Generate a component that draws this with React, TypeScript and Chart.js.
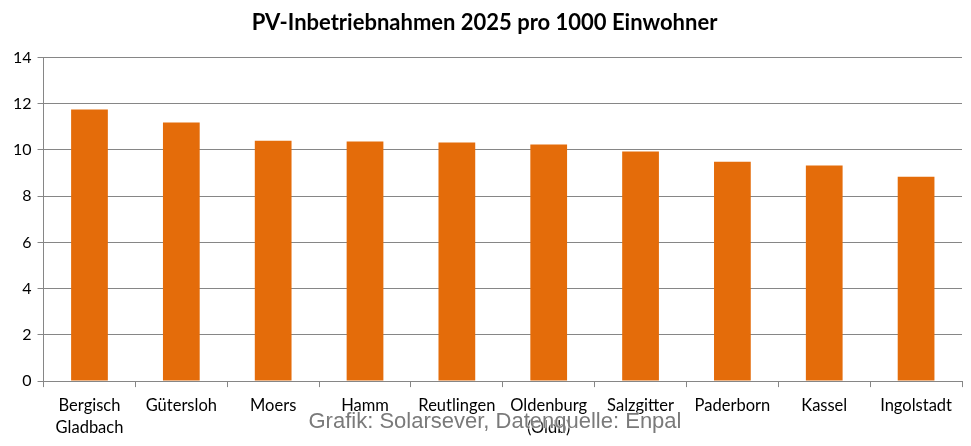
import React, { useEffect, useRef } from "react";
import { Chart, registerables } from "chart.js";

Chart.register(...registerables);

const categories: (string | string[])[] = [
  ["Bergisch", "Gladbach"],
  "Gütersloh",
  "Moers",
  "Hamm",
  "Reutlingen",
  ["Oldenburg", "(Oldb)"],
  "Salzgitter",
  "Paderborn",
  "Kassel",
  "Ingolstadt",
];
const values: number[] = [11.75, 11.18, 10.4, 10.36, 10.32, 10.23, 9.93, 9.49, 9.32, 8.84];
const yTicks: number[] = [0, 2, 4, 6, 8, 10, 12, 14];
const titleText = "PV-Inbetriebnahmen 2025 pro 1000 Einwohner";
const creditText = "Grafik: Solarsever, Datenquelle: Enpal";

export default function App() {
  const ref = useRef<HTMLCanvasElement | null>(null);
  useEffect(() => {
    if (!ref.current) return;
    const chart = new Chart(ref.current, {
      type: "bar",
      data: {
        labels: categories,
        datasets: [
          {
            data: values,
            backgroundColor: "#E46C0A",
            barPercentage: 0.4,
            categoryPercentage: 1,
          },
        ],
      },
      options: {
        animation: false,
        responsive: false,
        maintainAspectRatio: false,
        layout: { padding: { left: 7, right: 9, top: 6, bottom: 0 } },
        plugins: {
          legend: { display: false },
          tooltip: { enabled: false },
          title: {
            display: true,
            text: titleText,
            color: "#000",
            font: { family: "Lato", size: 22, weight: "bold" },
            padding: { top: 4, bottom: 21 },
          },
        },
        scales: {
          x: {
            grid: {
              offset: true,
              drawOnChartArea: false,
              drawTicks: true,
              tickLength: 6,
              color: "#868686",
            },
            border: { color: "#868686", width: 1 },
            ticks: {
              color: "#000",
              font: { family: "Lato", size: 16.5, lineHeight: 1.3 },
              maxRotation: 0,
              autoSkip: false,
              padding: 8,
            },
          },
          y: {
            min: 0,
            max: 14,
            afterBuildTicks: (axis: any) => {
              axis.ticks = yTicks.map((v) => ({ value: v }));
            },
            grid: { color: "#868686", tickLength: 6, lineWidth: 1 },
            border: { color: "#868686", width: 1 },
            ticks: {
              color: "#000",
              font: { family: "Lato", size: 16 },
              padding: 6,
            },
          },
        },
      },
    });
    return () => chart.destroy();
  }, []);
  return (
    <div style={{ position: "absolute", left: 0, top: 0, width: 971, height: 446, background: "#fff" }}>
      <canvas ref={ref} width={971} height={446} style={{ width: 971, height: 446 }} />
      <div
        style={{
          position: "absolute",
          left: 0,
          width: 990,
          top: 408,
          textAlign: "center",
          fontFamily: "Liberation Sans, Arial, sans-serif",
          fontSize: 22,
          color: "#7a7a7a",
          textShadow: "0 0 2px #fff, 0 0 2px #fff, 0 0 1px #fff",
          whiteSpace: "nowrap",
        }}
      >
        {creditText}
      </div>
    </div>
  );
}
